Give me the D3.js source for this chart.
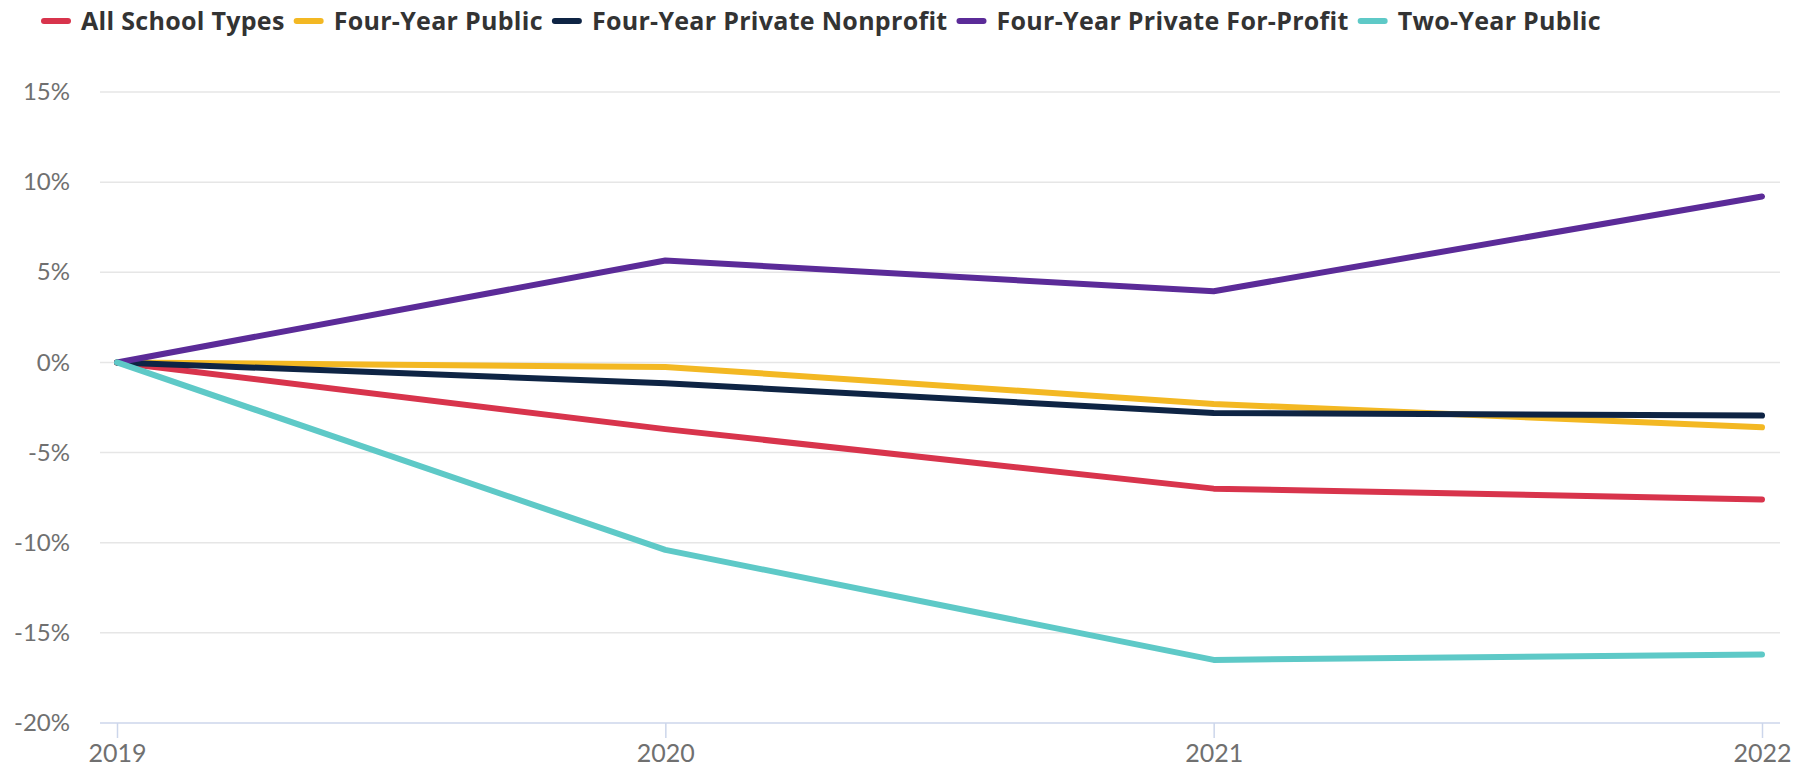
<!DOCTYPE html>
<html>
<head>
<meta charset="utf-8">
<script src="https://cdn.jsdelivr.net/npm/d3@7"></script>
<style>
  body { margin: 0; background: #fff; }
  svg { display: block; font-family: "Lato", "Open Sans", sans-serif; }
</style>
</head>
<body>
<div id="chart"></div>
<script>
// values (% change since 2019)
const years = [2019, 2020, 2021, 2022];
const seriesNames = ["All School Types", "Four-Year Public", "Four-Year Private Nonprofit", "Four-Year Private For-Profit", "Two-Year Public"];
const seriesColors = ["#d8344c", "#f3b823", "#0e2444", "#5b2b98", "#5ec9c7"];
const allSchoolTypes = [0, -3.7, -7.0, -7.6];
const fourYearPublic = [0, -0.25, -2.3, -3.6];
const fourYearPrivateNonprofit = [0, -1.15, -2.8, -2.95];
const fourYearPrivateForProfit = [0, 5.65, 3.95, 9.2];
const twoYearPublic = [0, -10.4, -16.5, -16.2];
const yTicks = [-20, -15, -10, -5, 0, 5, 10, 15];

const seriesValues = [allSchoolTypes, fourYearPublic, fourYearPrivateNonprofit, fourYearPrivateForProfit, twoYearPublic];

const width = 1802, height = 766;
const margin = { top: 92, right: 40, bottom: 43, left: 117 };

const svg = d3.select("#chart").append("svg")
    .attr("width", width)
    .attr("height", height);

let x = d3.scaleLinear()
    .domain(d3.extent(years))
    .range([margin.left, width - margin.right]);
let y = d3.scaleLinear()
    .domain([-20, 15])
    .range([height - margin.bottom, margin.top]);

const gridLeft = x.range()[0] - 17, gridRight = x.range()[1] + 18;

// horizontal grid
svg.append("g")
    .selectAll("line")
    .data(yTicks.filter(d => d !== -20))
    .join("line")
    .attr("x1", gridLeft)
    .attr("x2", gridRight)
    .attr("y1", d => y(d))
    .attr("y2", d => y(d))
    .attr("stroke", "#e6e6e6")
    .attr("stroke-width", 1.5);

// y labels
let yAxis = g => g
    .attr("transform", `translate(${gridLeft},0)`)
    .call(d3.axisLeft(y).tickValues(yTicks).tickFormat(d => d + "%").tickSize(0).tickPadding(30))
    .call(g => g.select(".domain").remove())
    .call(g => g.selectAll("text")
        .attr("fill", "#707070")
        .attr("font-size", 24)
        .attr("font-family", "Lato, 'Open Sans', sans-serif"));
svg.append("g").call(yAxis);

// x axis
let xAxis = g => g
    .attr("transform", `translate(0,${y(-20)})`)
    .call(d3.axisBottom(x).tickValues(years).tickFormat(d3.format("d")).tickSize(15).tickPadding(6).tickSizeOuter(0))
    .call(g => g.select(".domain").attr("d", `M${gridLeft},0H${gridRight}`).attr("stroke", "#ccd6eb").attr("stroke-width", 1.5))
    .call(g => g.selectAll(".tick line").attr("stroke", "#ccd6eb").attr("stroke-width", 1.5))
    .call(g => g.selectAll("text")
        .attr("fill", "#707070")
        .attr("font-size", 25)
        .attr("font-family", "Lato, 'Open Sans', sans-serif"));
svg.append("g").call(xAxis);

// lines
let line = d3.line()
    .x((d, i) => x(years[i]))
    .y(d => y(d));

svg.append("g")
    .selectAll("path")
    .data(seriesValues)
    .join("path")
    .attr("d", d => line(d))
    .attr("fill", "none")
    .attr("stroke", (d, i) => seriesColors[i])
    .attr("stroke-width", 6)
    .attr("stroke-linecap", "round")
    .attr("stroke-linejoin", "round");

// legend
const legend = svg.append("g").attr("transform", "translate(42,21)");
let lx = 0;
seriesNames.forEach((name, i) => {
    const item = legend.append("g").attr("transform", `translate(${lx},0)`);
    item.append("line")
        .attr("x1", 2).attr("x2", 26)
        .attr("stroke", seriesColors[i])
        .attr("stroke-width", 6)
        .attr("stroke-linecap", "round");
    const t = item.append("text")
        .attr("x", 39)
        .attr("dy", "0.35em")
        .attr("font-size", 25)
        .attr("font-weight", 700)
        .attr("letter-spacing", 0.3)
        .attr("font-family", "'Open Sans', sans-serif")
        .attr("fill", "#333")
        .text(name);
    lx += 39 + t.node().getComputedTextLength() + 10;
});
</script>
</body>
</html>
